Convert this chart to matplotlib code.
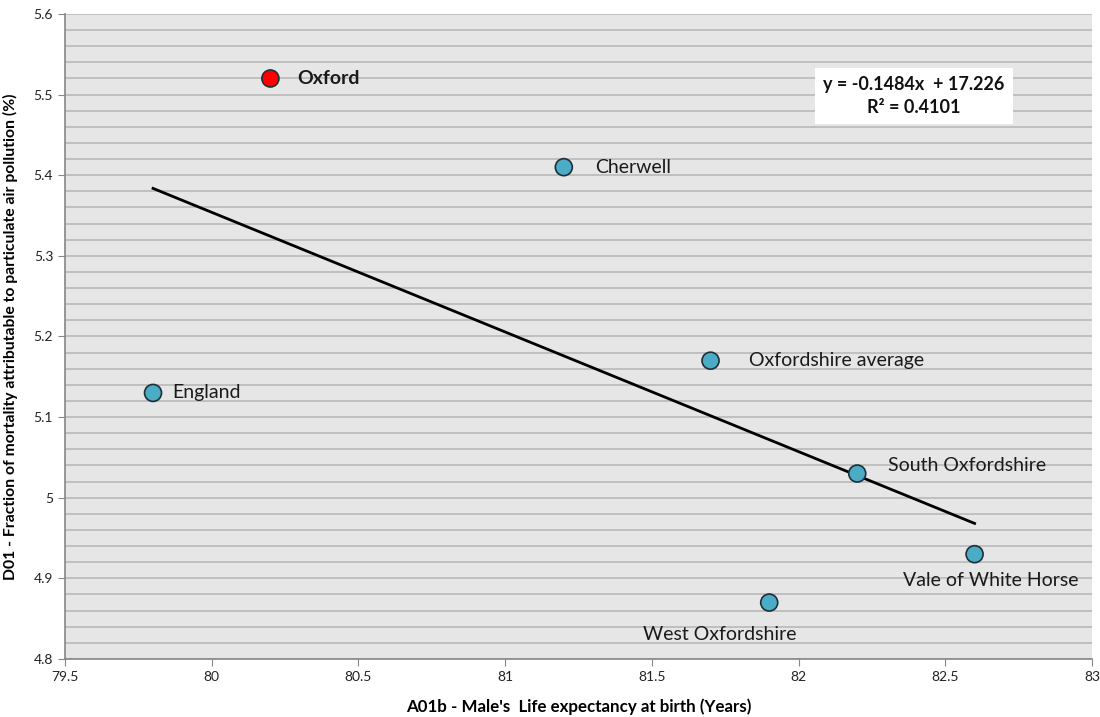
import matplotlib.pyplot as plt
import numpy as np

plt.rcParams['font.family'] = ['Lato', 'DejaVu Sans']

# Data
areas = ['England', 'Oxford', 'Cherwell', 'Oxfordshire average',
         'South Oxfordshire', 'Vale of White Horse', 'West Oxfordshire']
life_exp = [79.8, 80.2, 81.2, 81.7, 82.2, 82.6, 81.9]
pm_frac = [5.13, 5.52, 5.41, 5.17, 5.03, 4.93, 4.87]

# Linear trend as printed on the chart
slope = -0.1484
intercept = 17.226
r2 = 0.4101

# label offsets (dx, dy in data units) and alignment
label_pos = {
    'England': (0.065, 0.0, 'left'),
    'Oxford': (0.09, 0.0, 'left'),
    'Cherwell': (0.105, 0.0, 'left'),
    'Oxfordshire average': (0.13, 0.0, 'left'),
    'South Oxfordshire': (0.105, 0.01, 'left'),
    'Vale of White Horse': (0.055, -0.033, 'center'),
    'West Oxfordshire': (-0.17, -0.039, 'center'),
}

fig = plt.figure(figsize=(11, 7.17), dpi=100)
ax = fig.add_axes([0.0591, 0.0809, 0.9336, 0.8996])
ax.set_facecolor('#e6e6e6')

ax.set_xlim(79.5, 83)
ax.set_ylim(4.8, 5.6)
ax.set_xticks(np.arange(79.5, 83.01, 0.5))
ax.set_xticklabels(['79.5', '80', '80.5', '81', '81.5', '82', '82.5', '83'])
ax.set_yticks(np.arange(4.8, 5.61, 0.1))
ax.set_yticklabels(['4.8', '4.9', '5', '5.1', '5.2', '5.3', '5.4', '5.5', '5.6'])
ax.set_yticks(np.arange(4.8, 5.61, 0.02), minor=True)
ax.yaxis.grid(True, which='both', color='#bdbdbd', linewidth=1.3)
ax.set_axisbelow(True)
ax.tick_params(axis='y', which='minor', length=0)
ax.tick_params(axis='both', which='major', length=5, color='#868686',
               labelsize=10, labelcolor='#222222')

for s in ['top', 'right']:
    ax.spines[s].set_visible(False)
for s in ['left', 'bottom']:
    ax.spines[s].set_color('#868686')
    ax.spines[s].set_linewidth(1.2)

# trend line
xs = np.array([min(life_exp), max(life_exp)])
ax.plot(xs, slope * xs + intercept, color='black', linewidth=2, zorder=2)

colors = ['#ff0000' if a == 'Oxford' else '#4bacc6' for a in areas]
ax.scatter(life_exp, pm_frac, s=150, c=colors, edgecolors='#1f2f3a',
           linewidths=1.2, zorder=3)

for a, x, y in zip(areas, life_exp, pm_frac):
    dx, dy, ha = label_pos[a]
    ax.text(x + dx, y + dy, a, ha=ha, va='center', fontsize=14,
            color='#1a1a1a', fontweight='bold' if a == 'Oxford' else 'normal')

ax.text(82.393, 5.498, f'y = {slope}x  + {intercept}\nR² = {r2}',
        ha='center', va='center', fontsize=13, fontweight='bold',
        linespacing=1.4, color='#111111',
        bbox=dict(facecolor='white', edgecolor='none', pad=6))

ax.set_xlabel("A01b - Male's  Life expectancy at birth (Years)",
              fontsize=12.2, fontweight='bold', labelpad=11)
ax.set_ylabel('D01 - Fraction of mortality attributable to particulate air pollution (%)',
              fontsize=11.3, fontweight='bold', labelpad=11)

fig.savefig('out.png', dpi=100)
